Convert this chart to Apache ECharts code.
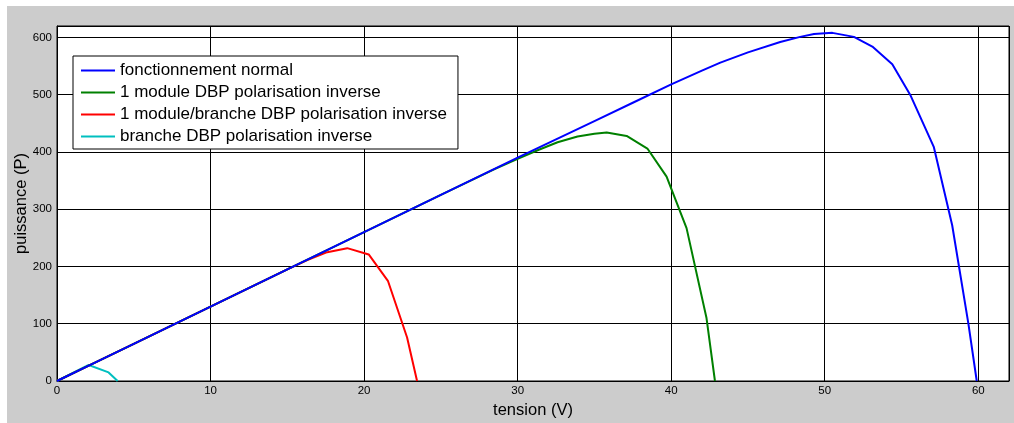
<!DOCTYPE html>
<html>
<head>
<meta charset="utf-8">
<script src="https://cdn.jsdelivr.net/npm/echarts@6/dist/echarts.min.js"></script>
<style>
  html, body { margin: 0; padding: 0; background: #ffffff; }
  #bg { position: absolute; left: 7px; top: 6px; width: 1007px; height: 417px; background: #cccccc; }
  #chart { position: absolute; left: 0; top: 0; width: 1014px; height: 423px; }
</style>
</head>
<body>
<div id="bg"></div>
<div id="chart"></div>
<script>
// Series names (legend)
const seriesNames = [
  'fonctionnement normal',
  '1 module DBP polarisation inverse',
  '1 module/branche DBP polarisation inverse',
  'branche DBP polarisation inverse'
];

// fonctionnement normal
const normalV = [0, 2, 5, 10, 15, 20, 25, 30, 32.5, 35, 37.5, 40, 42, 43.2, 45, 47.1, 48.4, 49.3, 50.5, 51.9, 53.1, 54.4, 55.6, 57.1, 58.3, 59.35, 59.9];
const normalP = [0, 26, 65, 130, 195, 260, 325, 390, 422, 454, 486, 518, 542, 556, 574, 592, 601, 606, 608, 601, 584, 553, 498, 409, 272, 101, 0];

// 1 module DBP polarisation inverse
const moduleV = [0, 2, 5, 10, 15, 20, 25, 28.5, 30, 31.3, 32.6, 33.9, 35.0, 35.8, 37.1, 38.45, 39.7, 41.0, 42.3, 42.85];
const moduleP = [0, 26, 65, 130, 195, 260, 325, 370, 388, 403, 417, 427, 432, 434, 428, 406, 357, 267, 110, 0];

// 1 module/branche DBP polarisation inverse
const moduleBrancheV = [0, 2, 5, 10, 15, 16.3, 17.6, 18.9, 20.3, 21.55, 22.8, 23.45];
const moduleBrancheP = [0, 26, 65, 130, 195, 211, 225, 232, 221, 175, 76, 0];

// branche DBP polarisation inverse
const brancheV = [0, 2.06, 3.36, 3.95];
const brancheP = [0, 28, 15, 0];

const seriesColors = ['#0000ff', '#008000', '#ff0000', '#00bfbf'];

function zip(xs, ys) { return xs.map((x, i) => [x, ys[i]]); }
const seriesData = [
  zip(normalV, normalP),
  zip(moduleV, moduleP),
  zip(moduleBrancheV, moduleBrancheP),
  zip(brancheV, brancheP)
];

const chart = echarts.init(document.getElementById('chart'), null, { renderer: 'canvas' });
const font = 'Liberation Sans, Arial, sans-serif';

chart.setOption({
  backgroundColor: 'transparent',
  animation: false,
  grid: {
    left: 57, right: 5, top: 26, bottom: 42,
    containLabel: false,
    outerBoundsMode: 'none',
    show: true, backgroundColor: '#ffffff', borderColor: '#000000', borderWidth: 1
  },
  legend: {
    show: true,
    orient: 'vertical',
    left: 73, top: 56,
    padding: [6, 11, 4, 8],
    icon: 'rect',
    itemWidth: 34, itemHeight: 2, itemGap: 5,
    backgroundColor: '#ffffff', borderColor: '#000000', borderWidth: 1,
    textStyle: { fontFamily: font, fontSize: 17, color: '#000', lineHeight: 14 },
    data: seriesNames
  },
  xAxis: {
    type: 'value', min: 0, max: 62, interval: 10,
    name: 'tension (V)', nameLocation: 'middle', nameGap: 19,
    nameTextStyle: { fontFamily: font, fontSize: 16.5, color: '#000' },
    axisLine: { show: true, onZero: false, lineStyle: { color: '#000', width: 1 } },
    axisTick: { show: false },
    axisLabel: { fontFamily: font, fontSize: 11.5, color: '#000', margin: 4, showMaxLabel: false },
    splitLine: { show: true, lineStyle: { color: '#000', width: 1 } }
  },
  yAxis: {
    type: 'value', min: 0, max: 620, interval: 100,
    name: 'puissance (P)', nameLocation: 'middle', nameGap: 27, nameRotate: 90,
    nameMoveOverlap: false,
    nameTextStyle: { fontFamily: font, fontSize: 16.5, color: '#000' },
    axisLine: { show: true, onZero: false, lineStyle: { color: '#000', width: 1 } },
    axisTick: { show: false },
    axisLabel: { fontFamily: font, fontSize: 11.5, color: '#000', margin: 5, showMaxLabel: false },
    splitLine: { show: true, lineStyle: { color: '#000', width: 1 } }
  },
  series: seriesNames.map((name, i) => ({
    name: name,
    type: 'line',
    data: seriesData[i],
    symbol: 'none',
    showSymbol: false,
    smooth: false,
    color: seriesColors[i],
    lineStyle: { color: seriesColors[i], width: 2 },
    z: 10 + (3 - i)
  }))
});
</script>
</body>
</html>
